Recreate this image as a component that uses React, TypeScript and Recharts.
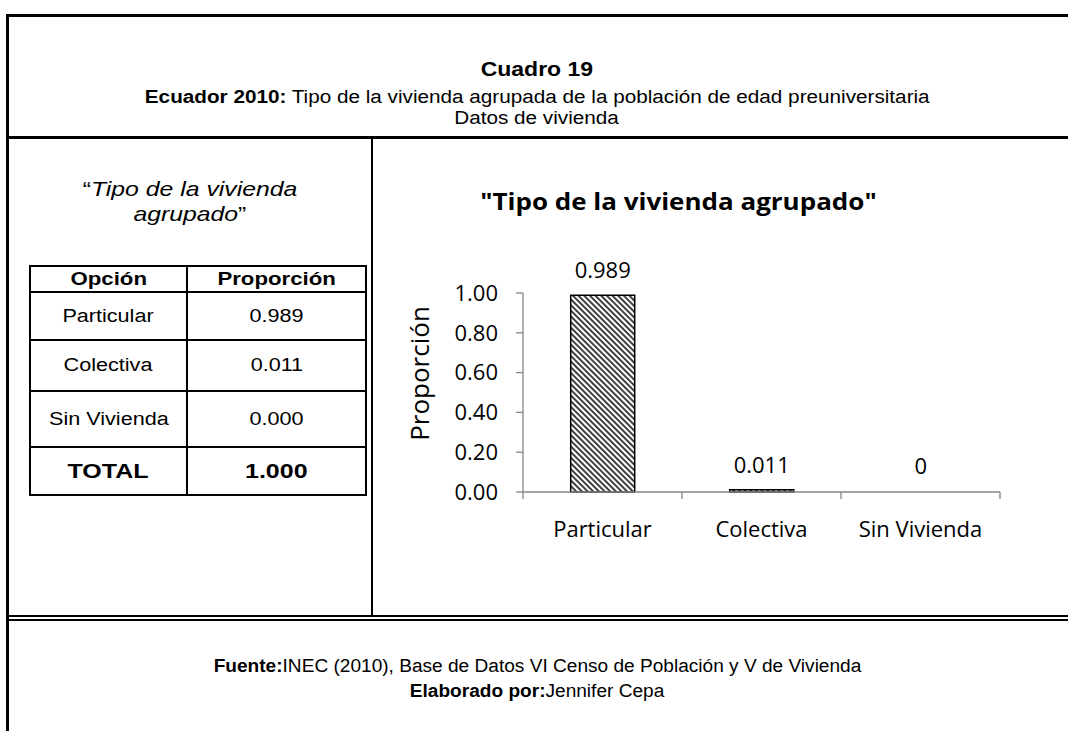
import React from 'react';
import { BarChart, Bar, XAxis, YAxis, LabelList, Label, Rectangle } from 'recharts';

const categories = ['Particular', 'Colectiva', 'Sin Vivienda'];
const proportions = [0.989, 0.011, 0];
const valueLabels = ['0.989', '0.011', '0'];
const yTicks = [0, 0.2, 0.4, 0.6, 0.8, 1.0];

const tableOptions = ['Particular', 'Colectiva', 'Sin Vivienda'];
const tableValues = ['0.989', '0.011', '0.000'];
const totalLabel = 'TOTAL';
const totalValue = '1.000';

const data = categories.map((c, i) => ({ name: c, value: proportions[i], label: valueLabels[i] }));

const AXIS = '#868686';
const CHART_FONT = '"Open Sans", "Noto Sans", sans-serif';
const DOC_FONT = '"Liberation Sans", Arial, sans-serif';

const CatTick = (props: any) => {
  const { x, y, payload, width } = props;
  const bw = payload && payload.offset ? payload.offset * 2 : width / categories.length;
  const isLast = payload.index === categories.length - 1;
  return (
    <g>
      <line x1={x - bw / 2} y1={y - 7} x2={x - bw / 2} y2={y} stroke={AXIS} strokeWidth={1.3} />
      {isLast && <line x1={x + bw / 2} y1={y - 7} x2={x + bw / 2} y2={y} stroke={AXIS} strokeWidth={1.3} />}
      <text x={x} y={y + 38} textAnchor="middle" fill="#000" fontSize={22} fontFamily={CHART_FONT}>
        {payload.value}
      </text>
    </g>
  );
};

const YLabel = (p: any) => {
  const vb = p.viewBox || { x: 0, y: 0, height: 0 };
  const cx = vb.x + 39;
  const cy = vb.y + vb.height / 2 - 19;
  return (
    <text
      x={cx}
      y={cy}
      transform={`rotate(-90, ${cx}, ${cy})`}
      textAnchor="middle"
      dominantBaseline="central"
      fill="#000"
      fontSize={26}
      fontFamily={CHART_FONT}
    >
      Proporción
    </text>
  );
};

const HatchBar = (p: any) => {
  const v = p.payload ? p.payload.value : p.value;
  if (v === 0) return <g />;
  return <Rectangle {...p} />;
};

const abs = (top: number, left: number, width: number, lineHeight: number, extra: React.CSSProperties = {}): React.CSSProperties => ({
  position: 'absolute',
  top,
  left,
  width,
  height: lineHeight,
  lineHeight: `${lineHeight}px`,
  textAlign: 'center',
  whiteSpace: 'nowrap',
  color: '#000',
  ...extra,
});

const Stretch = ({ s, children }: { s: number; children: React.ReactNode }) => (
  <span style={{ display: 'inline-block', transform: `scaleX(${s})`, transformOrigin: 'center', whiteSpace: 'nowrap' }}>
    {children}
  </span>
);

const cellBase: React.CSSProperties = {
  border: '2px solid #000',
  textAlign: 'center',
  padding: 0,
  fontFamily: DOC_FONT,
  color: '#000',
};

export default function App() {
  const rowHeights = [48, 51, 56];
  return (
    <div
      style={{
        position: 'absolute',
        left: 0,
        top: 0,
        width: 1068,
        height: 731,
        background: '#fff',
        overflow: 'hidden',
        fontFamily: DOC_FONT,
      }}
    >
      <svg width={0} height={0} style={{ position: 'absolute' }}>
        <defs>
          <pattern id="hatch" patternUnits="userSpaceOnUse" width={4} height={4} patternTransform="rotate(-45)">
            <rect x={0} y={0} width={4} height={4} fill="#fff" />
            <line x1={1} y1={0} x2={1} y2={4} stroke="#000" strokeWidth={1.5} />
          </pattern>
        </defs>
      </svg>

      {/* frame lines */}
      <div style={{ position: 'absolute', left: 6, top: 14, width: 1062, height: 3, background: '#000' }} />
      <div style={{ position: 'absolute', left: 6, top: 14, width: 3, height: 717, background: '#000' }} />
      <div style={{ position: 'absolute', left: 6, top: 136, width: 1062, height: 3, background: '#000' }} />
      <div style={{ position: 'absolute', left: 371, top: 136, width: 2, height: 480, background: '#000' }} />
      <div style={{ position: 'absolute', left: 6, top: 615, width: 1062, height: 2, background: '#000' }} />
      <div style={{ position: 'absolute', left: 6, top: 619, width: 1062, height: 2, background: '#000' }} />

      {/* header */}
      <div style={abs(57, 0, 1074, 24, { fontWeight: 700, fontSize: 20 })}>
        <Stretch s={1.15}>Cuadro 19</Stretch>
      </div>
      <div style={abs(87, 0, 1074, 21, { fontSize: 18 })}>
        <Stretch s={1.15}>
          <b>Ecuador 2010:</b> Tipo de la vivienda agrupada de la población de edad preuniversitaria
        </Stretch>
      </div>
      <div style={abs(108, 0, 1074, 21, { fontSize: 18 })}>
        <Stretch s={1.15}>Datos de vivienda</Stretch>
      </div>

      {/* left panel title */}
      <div style={abs(176, 9, 362, 25, { fontSize: 21 })}>
        <Stretch s={1.18}>
          “<i>Tipo de la vivienda</i>
        </Stretch>
      </div>
      <div style={abs(201, 9, 362, 25, { fontSize: 21 })}>
        <Stretch s={1.18}>
          <i>agrupado</i>”
        </Stretch>
      </div>

      {/* table */}
      <table
        style={{
          position: 'absolute',
          left: 29,
          top: 265,
          borderCollapse: 'collapse',
          tableLayout: 'fixed',
          width: 336,
        }}
      >
        <colgroup>
          <col style={{ width: 157 }} />
          <col style={{ width: 179 }} />
        </colgroup>
        <tbody>
          <tr style={{ height: 26 }}>
            <td style={{ ...cellBase, fontWeight: 700, fontSize: 19, lineHeight: '20px' }}>
              <Stretch s={1.17}>Opción</Stretch>
            </td>
            <td style={{ ...cellBase, fontWeight: 700, fontSize: 19, lineHeight: '20px' }}>
              <Stretch s={1.17}>Proporción</Stretch>
            </td>
          </tr>
          {tableOptions.map((o, i) => (
            <tr key={o} style={{ height: rowHeights[i] }}>
              <td style={{ ...cellBase, fontSize: 18 }}>
                <Stretch s={1.2}>{o}</Stretch>
              </td>
              <td style={{ ...cellBase, fontSize: 18 }}>
                <Stretch s={1.2}>{tableValues[i]}</Stretch>
              </td>
            </tr>
          ))}
          <tr style={{ height: 48 }}>
            <td style={{ ...cellBase, fontWeight: 700, fontSize: 21 }}>
              <Stretch s={1.19}>{totalLabel}</Stretch>
            </td>
            <td style={{ ...cellBase, fontWeight: 700, fontSize: 21 }}>
              <Stretch s={1.19}>{totalValue}</Stretch>
            </td>
          </tr>
        </tbody>
      </table>

      {/* chart title */}
      <div style={abs(186, 373, 610, 30, { fontWeight: 700, fontSize: 23, fontFamily: CHART_FONT })}>
        <Stretch s={1.13}>"Tipo de la vivienda agrupado"</Stretch>
      </div>

      {/* chart */}
      <div style={{ position: 'absolute', left: 380, top: 240 }}>
        <BarChart
          width={680}
          height={330}
          data={data}
          margin={{ top: 53, right: 60, bottom: 0, left: 0 }}
          barCategoryGap="30%"
        >
          <XAxis
            dataKey="name"
            interval={0}
            tickSize={7}
            tickMargin={0}
            tickLine={false}
            axisLine={{ stroke: AXIS, strokeWidth: 1.3 }}
            tick={<CatTick />}
            height={78}
          />
          <YAxis
            domain={[0, 1]}
            ticks={yTicks}
            interval={0}
            width={143}
            tickSize={7}
            tickMargin={18}
            tickFormatter={(v: number) => v.toFixed(2)}
            tick={{ fill: '#000', fontSize: 22, fontFamily: CHART_FONT }}
            tickLine={{ stroke: AXIS, strokeWidth: 1.3 }}
            axisLine={{ stroke: AXIS, strokeWidth: 1.3 }}
            label={<Label content={<YLabel />} />}
          />
          <Bar
            dataKey="value"
            fill="url(#hatch)"
            stroke="#000"
            strokeWidth={1.5}
            minPointSize={1}
            shape={<HatchBar />}
            isAnimationActive={false}
          >
            <LabelList dataKey="label" position="top" offset={17} fill="#000" fontSize={22} fontFamily={CHART_FONT} />
          </Bar>
        </BarChart>
      </div>

      {/* footer */}
      <div style={abs(656, 0, 1074, 21, { fontSize: 18 })}>
        <Stretch s={1.06}>
          <b>Fuente:</b>INEC (2010), Base de Datos VI Censo de Población y V de Vivienda
        </Stretch>
      </div>
      <div style={abs(681, 0, 1074, 21, { fontSize: 18 })}>
        <Stretch s={1.06}>
          <b>Elaborado por:</b>Jennifer Cepa
        </Stretch>
      </div>
    </div>
  );
}
